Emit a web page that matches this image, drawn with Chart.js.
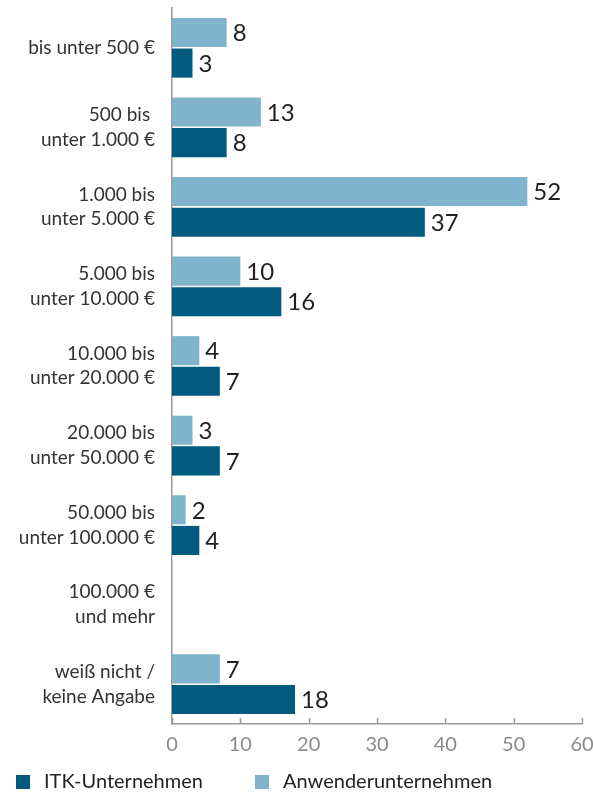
<!DOCTYPE html>
<html lang="de">
<head>
<meta charset="UTF-8">
<title>Budget nach Unternehmensart</title>
<script src="https://cdn.jsdelivr.net/npm/chart.js"></script>
<style>
  html, body { margin: 0; padding: 0; background: #fff; }
  #wrap { position: relative; width: 593px; height: 794px; }
</style>
</head>
<body>
<div id="wrap"><canvas id="chart"></canvas></div>
<script>
// Kategorien (mehrzeilig), Werte je Unternehmensart, Achsenticks
const kategorien = [
  ['bis unter 500 €'],
  ['500 bis ', 'unter 1.000 €'],
  ['1.000 bis', 'unter 5.000 €'],
  ['5.000 bis', 'unter 10.000 €'],
  ['10.000 bis', 'unter 20.000 €'],
  ['20.000 bis', 'unter 50.000 €'],
  ['50.000 bis', 'unter 100.000 €'],
  ['100.000 €', 'und mehr'],
  ['weiß nicht /', 'keine Angabe']
];
const anwenderWerte = [8, 13, 52, 10, 4, 3, 2, null, 7];
const itkWerte = [3, 8, 37, 16, 7, 7, 4, null, 18];
const achsenTicks = [0, 10, 20, 30, 40, 50, 60];

const HELL = '#80b4cc';
const DUNKEL = '#005b7e';
const SCHRIFT = 'Lato, "Open Sans", sans-serif';

// Zahlen rechts neben den Balken
const wertLabels = {
  id: 'wertLabels',
  afterDatasetsDraw(chart) {
    const ctx = chart.ctx;
    ctx.save();
    ctx.font = '24px ' + SCHRIFT;
    ctx.fillStyle = '#231f20';
    ctx.textAlign = 'left';
    ctx.textBaseline = 'middle';
    chart.data.datasets.forEach((ds, i) => {
      chart.getDatasetMeta(i).data.forEach((bar, j) => {
        const v = ds.data[j];
        if (v === null || v === undefined) return;
        ctx.fillText(String(v), bar.x + 6, bar.y + 1);
      });
    });
    ctx.restore();
  }
};

// kurze Teilstriche nach oben auf der x-Achse
const achsenStriche = {
  id: 'achsenStriche',
  afterDraw(chart) {
    const x = chart.scales.x;
    const unten = chart.chartArea.bottom;
    const ctx = chart.ctx;
    ctx.save();
    ctx.strokeStyle = '#9a9a9a';
    ctx.lineWidth = 1.5;
    x.ticks.forEach(t => {
      const px = Math.round(x.getPixelForValue(t.value)) + 0.5;
      ctx.beginPath();
      ctx.moveTo(px, unten);
      ctx.lineTo(px, unten - 6);
      ctx.stroke();
    });
    ctx.restore();
  }
};

// Legende unten links, ITK zuerst
const legende = {
  id: 'legende',
  afterDraw(chart) {
    const ctx = chart.ctx;
    const eintraege = chart.data.datasets.slice().reverse();
    const startX = [16, 255];
    const y = 782;
    ctx.save();
    ctx.font = '20px ' + SCHRIFT;
    ctx.textBaseline = 'middle';
    ctx.textAlign = 'left';
    eintraege.forEach((ds, i) => {
      ctx.fillStyle = ds.backgroundColor;
      ctx.fillRect(startX[i], y - 7, 14, 14);
      ctx.fillStyle = '#231f20';
      ctx.fillText(ds.label, startX[i] + 28, y);
    });
    ctx.restore();
  }
};

new Chart(document.getElementById('chart'), {
  type: 'bar',
  data: {
    labels: kategorien,
    datasets: [
      { label: 'Anwenderunternehmen', data: anwenderWerte, backgroundColor: HELL },
      { label: 'ITK-Unternehmen', data: itkWerte, backgroundColor: DUNKEL }
    ]
  },
  options: {
    indexAxis: 'y',
    responsive: true,
    maintainAspectRatio: false,
    animation: false,
    layout: { padding: { top: 8, right: 11, bottom: 28, left: 0 } },
    datasets: { bar: { categoryPercentage: 0.77, barPercentage: 0.95 } },
    plugins: {
      legend: { display: false },
      tooltip: { enabled: false }
    },
    scales: {
      x: {
        min: 0,
        max: 60,
        afterBuildTicks(scale) {
          scale.ticks = achsenTicks.map(v => ({ value: v }));
        },
        afterFit(scale) {
          scale.paddingLeft = 0;
          scale.paddingRight = 0;
        },
        grid: { display: false, drawTicks: false },
        border: { display: true, color: '#9a9a9a', width: 1.5 },
        ticks: {
          color: '#8a8a8a',
          font: { family: SCHRIFT, size: 20 },
          padding: 9
        }
      },
      y: {
        afterFit(scale) {
          scale.width = 172;
          scale.paddingTop = 0;
          scale.paddingBottom = 0;
        },
        grid: { display: false, drawTicks: false },
        border: { display: true, color: '#9a9a9a', width: 1.5 },
        ticks: {
          color: '#333333',
          font: { family: SCHRIFT, size: 19, lineHeight: 1.3 },
          padding: 17
        }
      }
    }
  },
  plugins: [wertLabels, achsenStriche, legende]
});
</script>
</body>
</html>
